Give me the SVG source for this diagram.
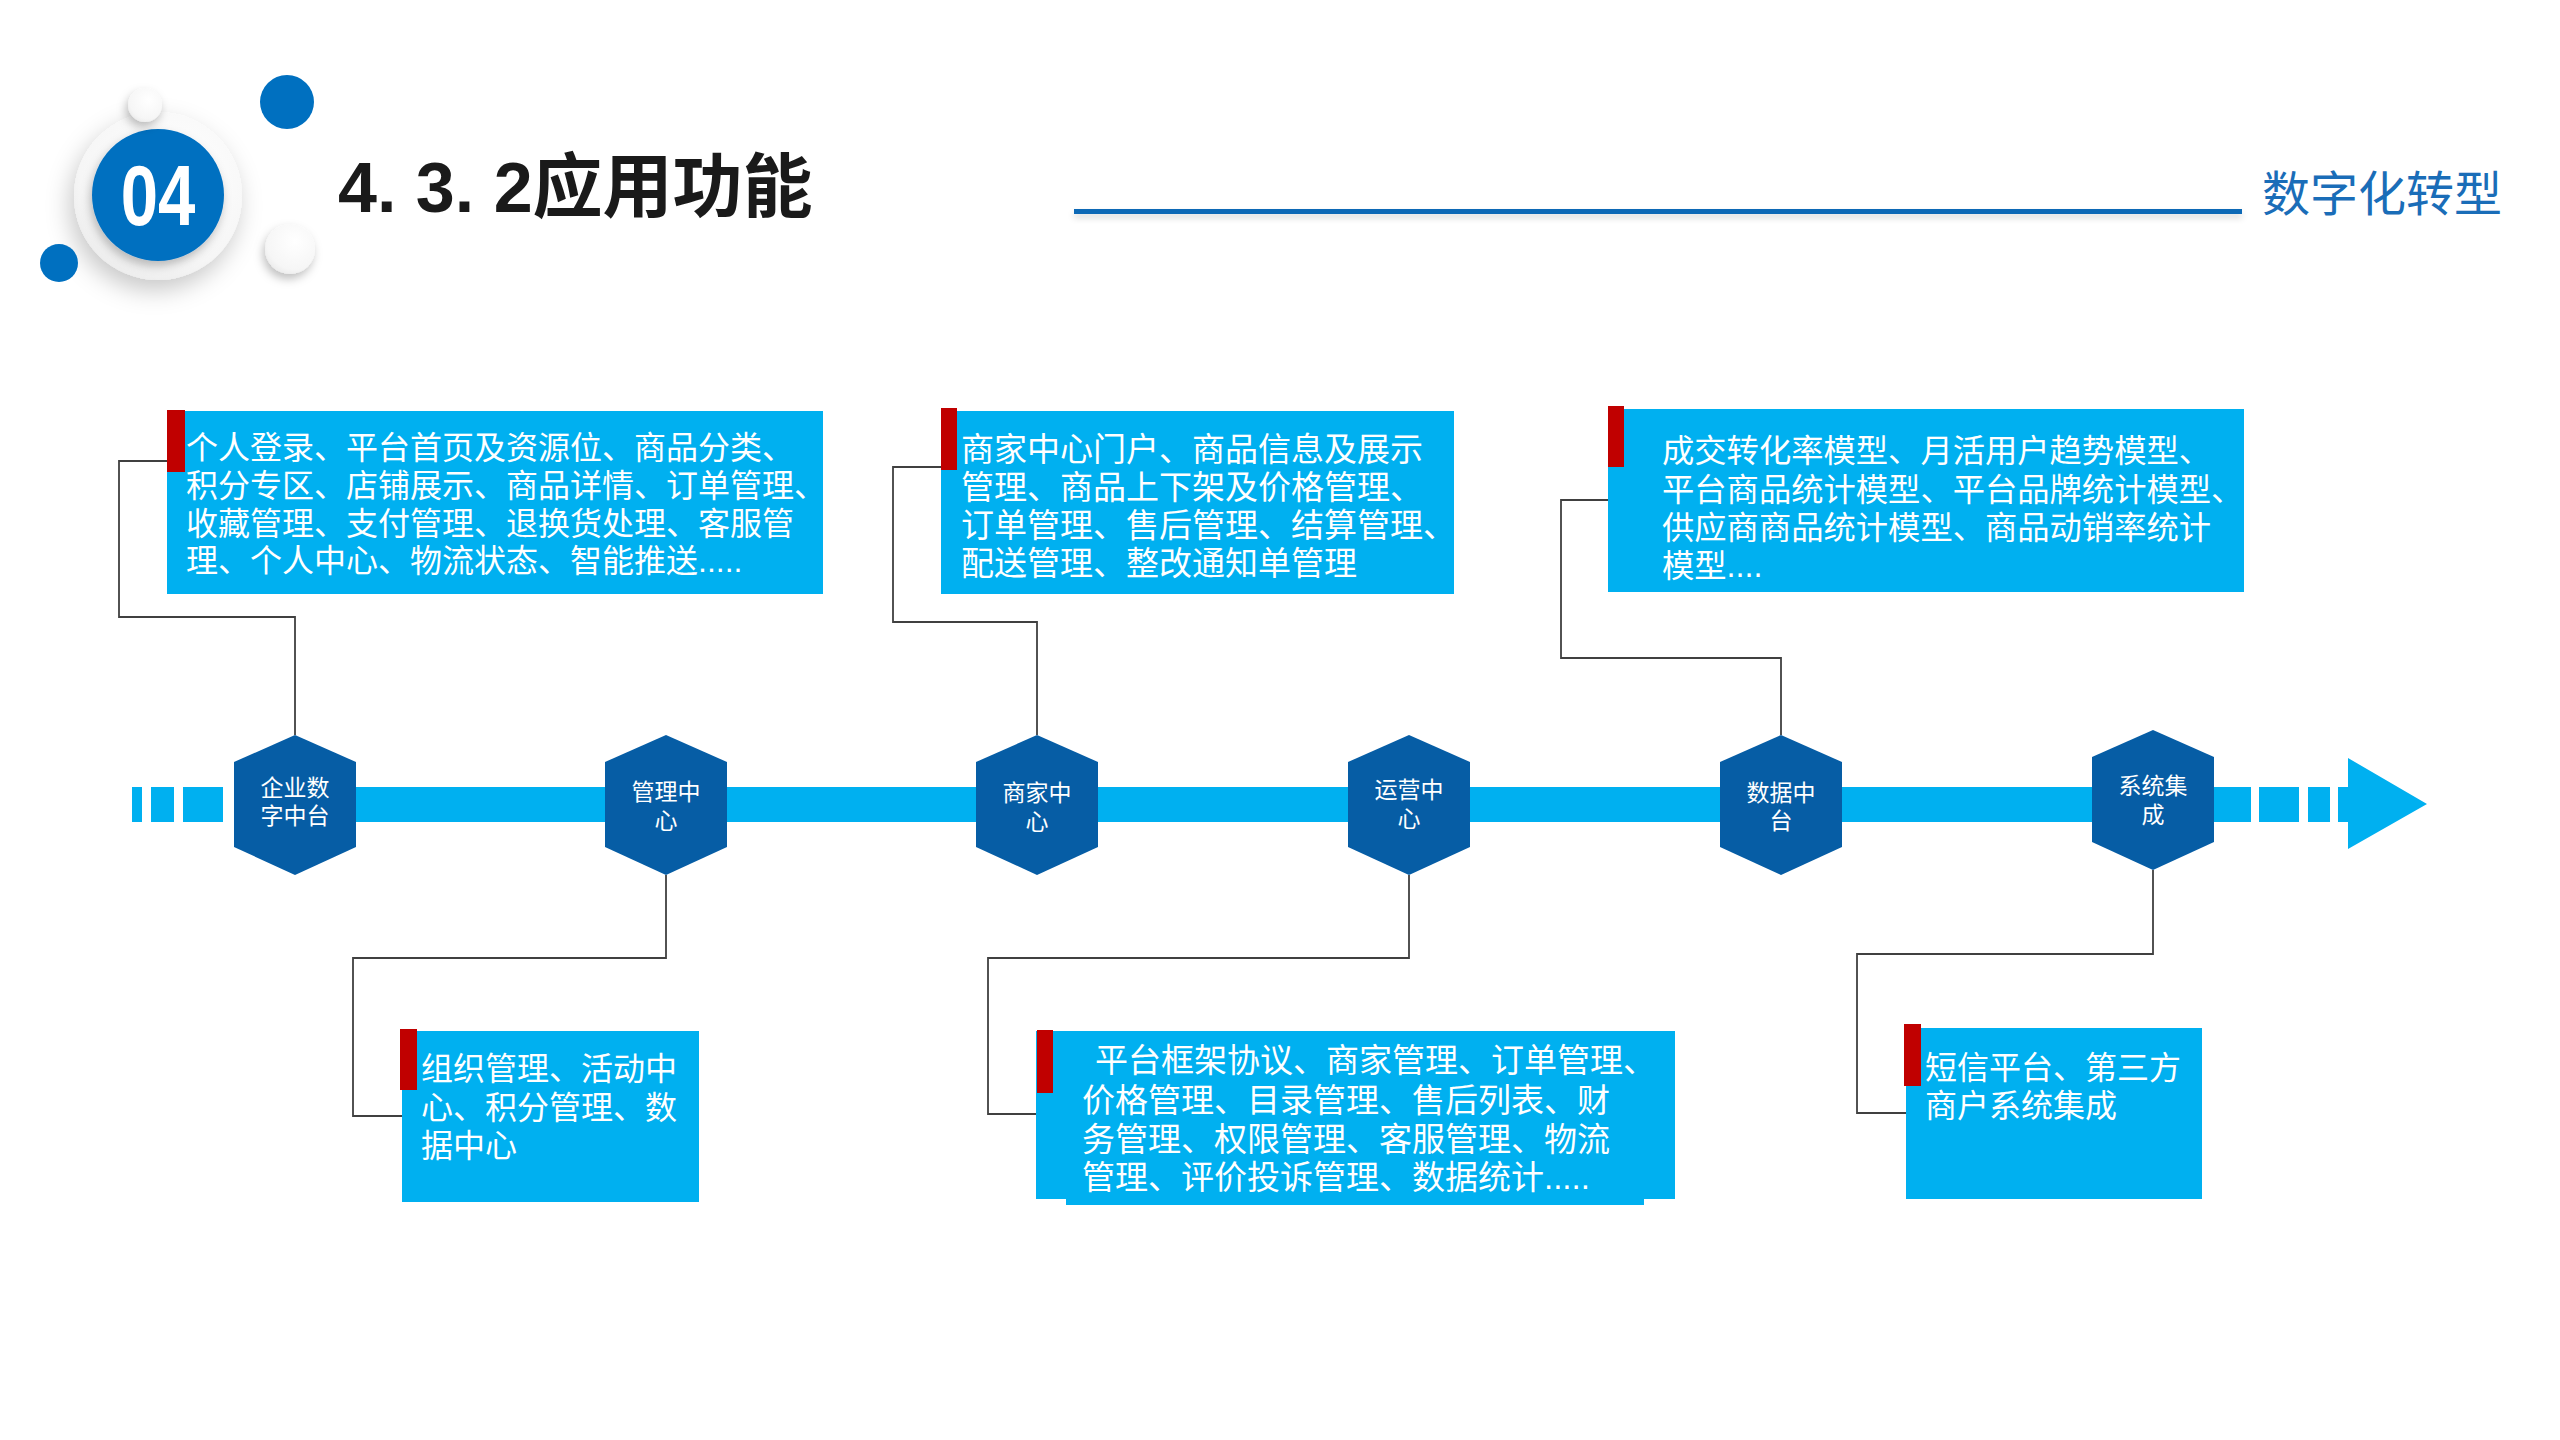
<svg xmlns="http://www.w3.org/2000/svg" width="2560" height="1440" viewBox="0 0 2560 1440">
<style>
.bar{fill:#00B0F0}
.box{fill:#00B0F0}
.tab{fill:#C00000}
.hex{fill:#065DA5}
.conn{fill:none;stroke:#404040;stroke-width:1.8}
.bt{fill:#FFFFFF;font-family:'Liberation Sans','Noto Sans CJK SC',sans-serif}
.ht{fill:#FFFFFF;font-family:'Liberation Sans','Noto Sans CJK SC',sans-serif;font-size:23px;text-anchor:middle}
</style>
<defs>
<polygon id="hexshape" points="0,-70 61,-43 61,42 0,70 -61,42 -61,-43"/>
<filter id="sh" x="-50%" y="-50%" width="200%" height="200%">
<feDropShadow dx="-4" dy="10" stdDeviation="12" flood-color="#000" flood-opacity="0.22"/>
</filter>
<filter id="shs" x="-60%" y="-60%" width="220%" height="220%">
<feDropShadow dx="-2" dy="5" stdDeviation="5" flood-color="#000" flood-opacity="0.25"/>
</filter>
<filter id="lsh" x="-5%" y="-200%" width="110%" height="500%">
<feDropShadow dx="0" dy="4" stdDeviation="3" flood-color="#000" flood-opacity="0.15"/>
</filter>
<radialGradient id="wg" cx="0.6" cy="0.35" r="0.8">
<stop offset="0" stop-color="#FFFFFF"/>
<stop offset="0.7" stop-color="#F6F6F6"/>
<stop offset="1" stop-color="#E4E4E4"/>
</radialGradient>
</defs>

<g id="header">
<circle cx="158" cy="196" r="84" fill="url(#wg)" filter="url(#sh)"/>
<circle cx="158" cy="195" r="66" fill="#0070C0" filter="url(#shs)"/>
<text x="158" y="225" transform="translate(158 0) scale(0.78 1) translate(-158 0)" text-anchor="middle" font-family="'Liberation Sans',sans-serif" font-weight="bold" font-size="86" fill="#FFFFFF">04</text>
<circle cx="145" cy="105" r="17" fill="url(#wg)" filter="url(#shs)"/>
<circle cx="287" cy="102" r="27" fill="#0070C0"/>
<circle cx="59" cy="263" r="19" fill="#0070C0"/>
<circle cx="290" cy="249" r="25" fill="url(#wg)" filter="url(#shs)"/>
<text x="338" y="212" font-family="'Liberation Sans','Noto Sans CJK SC',sans-serif" font-weight="bold" font-size="70" fill="#1A1A1A">4. 3. 2应用功能</text>
<rect x="1074" y="209" width="1168" height="5" fill="#1169B6" filter="url(#lsh)"/>
<text x="2262" y="211" font-family="'Liberation Sans','Noto Sans CJK SC',sans-serif" font-size="48" fill="#1A6DB8">数字化转型</text>
</g>

<g id="timeline">
<rect class="bar" x="132" y="787" width="10" height="35"/>
<rect class="bar" x="151" y="787" width="23" height="35"/>
<rect class="bar" x="183" y="787" width="40" height="35"/>
<rect class="bar" x="240" y="787" width="2011" height="35"/>
<rect class="bar" x="2259" y="787" width="40" height="35"/>
<rect class="bar" x="2308" y="787" width="22" height="35"/>
<polygon class="bar" points="2338,787 2348,787 2348,758 2427,804 2348,849 2348,822 2338,822"/>
</g>

<g id="connectors">
<polyline class="conn" points="295,735 295,617 119,617 119,461 167,461"/>
<polyline class="conn" points="666,875 666,958 353,958 353,1116 402,1116"/>
<polyline class="conn" points="1037,735 1037,622 893,622 893,467 941,467"/>
<polyline class="conn" points="1409,875 1409,958 988,958 988,1114 1036,1114"/>
<polyline class="conn" points="1781,735 1781,658 1561,658 1561,500 1608,500"/>
<polyline class="conn" points="2153,870 2153,954 1857,954 1857,1113 1906,1113"/>
</g>

<g id="hex1"><use href="#hexshape" class="hex" x="295" y="805"/><text class="ht" x="295" y="796">企业数</text><text class="ht" x="295" y="824">字中台</text></g>
<g id="hex2"><use href="#hexshape" class="hex" x="666" y="805"/><text class="ht" x="666" y="800">管理中</text><text class="ht" x="666" y="829">心</text></g>
<g id="hex3"><use href="#hexshape" class="hex" x="1037" y="805"/><text class="ht" x="1037" y="801">商家中</text><text class="ht" x="1037" y="830">心</text></g>
<g id="hex4"><use href="#hexshape" class="hex" x="1409" y="805"/><text class="ht" x="1409" y="798">运营中</text><text class="ht" x="1409" y="827">心</text></g>
<g id="hex5"><use href="#hexshape" class="hex" x="1781" y="805"/><text class="ht" x="1781" y="801">数据中</text><text class="ht" x="1781" y="829">台</text></g>
<g id="hex6"><use href="#hexshape" class="hex" x="2153" y="800"/><text class="ht" x="2153" y="794">系统集</text><text class="ht" x="2153" y="823">成</text></g>

<g id="box1">
<rect class="box" x="167" y="411" width="656" height="183"/>
<rect class="tab" x="167" y="410" width="18" height="62"/>
<text class="bt" font-size="32"><tspan x="186" y="459">个人登录、平台首页及资源位、商品分类、</tspan><tspan x="186" y="497">积分专区、店铺展示、商品详情、订单管理、</tspan><tspan x="186" y="535">收藏管理、支付管理、退换货处理、客服管</tspan><tspan x="186" y="572">理、个人中心、物流状态、智能推送.....</tspan></text>
</g>

<g id="box2">
<rect class="box" x="941" y="411" width="513" height="183"/>
<rect class="tab" x="941" y="408" width="16" height="62"/>
<text class="bt" font-size="33"><tspan x="961" y="461">商家中心门户、商品信息及展示</tspan><tspan x="961" y="499">管理、商品上下架及价格管理、</tspan><tspan x="961" y="537">订单管理、售后管理、结算管理、</tspan><tspan x="961" y="575">配送管理、整改通知单管理</tspan></text>
</g>

<g id="box3">
<rect class="box" x="1608" y="409" width="636" height="183"/>
<rect class="tab" x="1608" y="406" width="16" height="61"/>
<text class="bt" font-size="32.3"><tspan x="1662" y="462">成交转化率模型、月活用户趋势模型、</tspan><tspan x="1662" y="501">平台商品统计模型、平台品牌统计模型、</tspan><tspan x="1662" y="539">供应商商品统计模型、商品动销率统计</tspan><tspan x="1662" y="577">模型....</tspan></text>
</g>

<g id="box4">
<rect class="box" x="402" y="1031" width="297" height="171"/>
<rect class="tab" x="400" y="1029" width="17" height="61"/>
<text class="bt" font-size="32"><tspan x="421" y="1080">组织管理、活动中</tspan><tspan x="421" y="1119">心、积分管理、数</tspan><tspan x="421" y="1157">据中心</tspan></text>
</g>

<g id="box5">
<rect class="box" x="1036" y="1031" width="639" height="168"/>
<rect class="box" x="1066" y="1198" width="578" height="7"/>
<rect class="tab" x="1037" y="1030" width="16" height="63"/>
<text class="bt" font-size="33"><tspan x="1095" y="1072">平台框架协议、商家管理、订单管理、</tspan><tspan x="1082" y="1112">价格管理、目录管理、售后列表、财</tspan><tspan x="1082" y="1151">务管理、权限管理、客服管理、物流</tspan><tspan x="1082" y="1189">管理、评价投诉管理、数据统计.....</tspan></text>
</g>

<g id="box6">
<rect class="box" x="1906" y="1028" width="296" height="171"/>
<rect class="tab" x="1904" y="1024" width="17" height="62"/>
<text class="bt" font-size="32"><tspan x="1925" y="1079">短信平台、第三方</tspan><tspan x="1925" y="1117">商户系统集成</tspan></text>
</g>
</svg>
